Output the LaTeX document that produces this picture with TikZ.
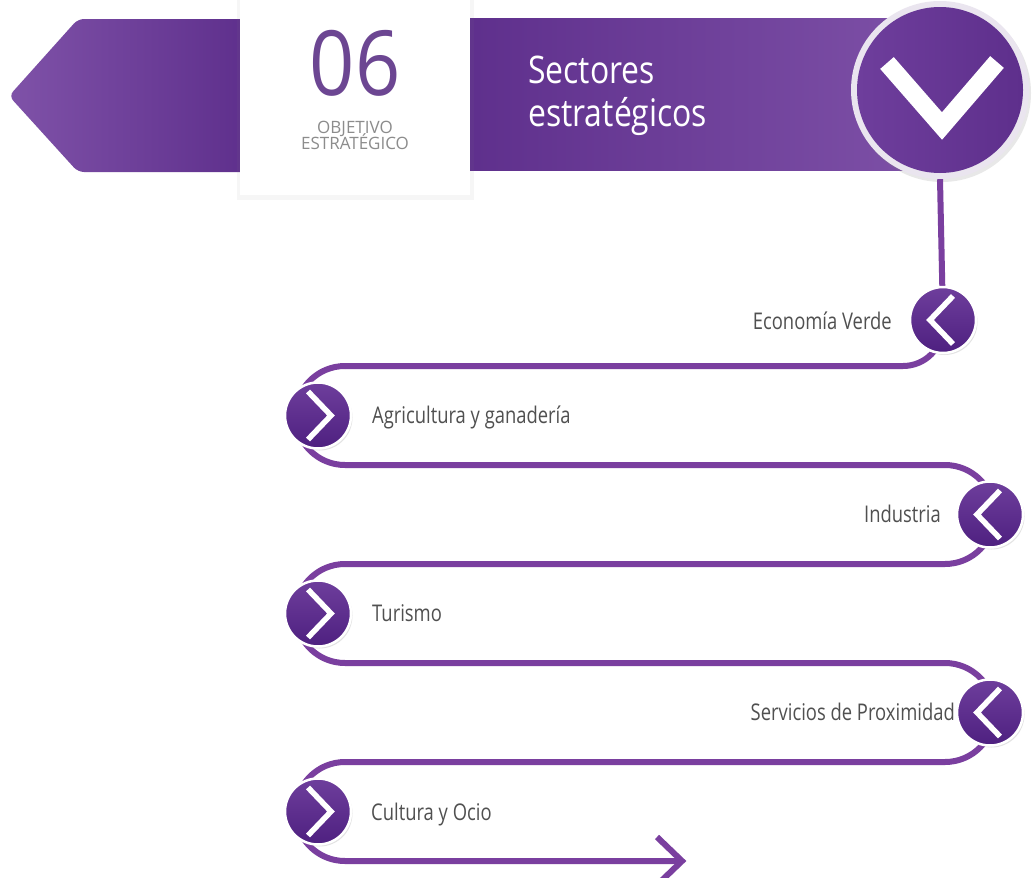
\documentclass[tikz,border=0pt]{standalone}
\usepackage{fontspec}
\setmainfont{Open Sans}
\newfontfamily\labfont{Open Sans}[FakeStretch=0.8]
\newfontfamily\titfont{Open Sans}[FakeStretch=0.84]
\newfontfamily\numfont{Open Sans}[FakeStretch=0.88]
\usetikzlibrary{shadows}
\definecolor{bandA}{HTML}{7F52A8}
\definecolor{bandB}{HTML}{5E2F8C}
\definecolor{linec}{HTML}{7A3F9F}
\definecolor{circA}{HTML}{6E3E9C}
\definecolor{circB}{HTML}{4E2080}
\definecolor{numc}{HTML}{6C4692}
\definecolor{graytxt}{HTML}{8C8C8C}
\definecolor{labc}{HTML}{505050}
\definecolor{halo}{HTML}{EAE5EF}
\tikzset{
  snake/.style={draw=linec, line width=6pt},
  bullet/.style={circle, minimum size=66pt, inner sep=0pt, top color=circA, bottom color=circB,
    draw=white, line width=2.5pt, drop shadow={opacity=0.22, shadow xshift=1.5pt, shadow yshift=-2pt}},
  lbl/.style={font=\labfont\fontsize{23}{26}\selectfont, text=labc, inner sep=0pt},
  chevr/.pic={\draw[white, line width=5.5pt] (-10,-24) -- (13,0) -- (-10,24);},
  chevl/.pic={\draw[white, line width=5.5pt] (10,-24) -- (-13,0) -- (10,24);},
}
\begin{document}
\begin{tikzpicture}[x=1pt,y=-1pt]
\useasboundingbox (0,0) rectangle (1036,878);
\fill[white] (0,0) rectangle (1036,878);
% left banner
\shade[left color=bandA, right color=bandB, rounded corners=6pt]
  (250,19) -- (78,19) -- (9,96) -- (78,172) -- (250,172) -- cycle;
% right banner
\shade[left color=bandB, right color=bandA] (460,18) rectangle (950,170);
% white box
\node[fill=white, minimum width=230pt, minimum height=196pt, inner sep=0pt, anchor=north west,
  drop shadow={opacity=0.07, shadow xshift=0pt, shadow yshift=-2pt, shadow scale=1.03}] (box) at (240,-1) {};
\node[font=\numfont\fontsize{90}{90}\selectfont, text=numc, anchor=base, inner sep=0pt] (num) at (355,95) {06};
\node[font=\fontsize{17}{17}\selectfont, text=graytxt, anchor=base, inner sep=0pt] (obj) at (355,133) {OBJETIVO};
\node[font=\fontsize{17}{17}\selectfont, text=graytxt, anchor=base, inner sep=0pt] (est) at (355,149) {ESTRATÉGICO};
% title
\node[font=\titfont\fontsize{38}{42}\selectfont, text=white, anchor=base west, inner sep=0pt] (t1) at (528,83) {Sectores};
\node[font=\titfont\fontsize{38}{42}\selectfont, text=white, anchor=base west, inner sep=0pt] (t2) at (528,126) {estratégicos};
% top circle
\node[circle, minimum size=178pt, inner sep=0pt, fill=halo, drop shadow={opacity=0.18, shadow xshift=2pt, shadow yshift=-3pt}] (halo) at (940,90) {};
\node[circle, minimum size=166pt, inner sep=0pt, left color=circA, right color=bandB] (top) at (940,90) {};
\draw[white, line width=18pt] ([shift={(-53,-27)}]top.center) -- ([shift={(2,36)}]top.center) -- ([shift={(57,-28)}]top.center);
% bullets positions
\coordinate (evc) at (943,320);
\coordinate (endp) at (682,861);
% snake
\draw[snake] (halo.south) -- (evc);
\draw[snake, rounded corners=40pt] (evc) -- (943,366) -- (345,366);
\draw[snake] (345,366) arc[start angle=270, end angle=90, radius=49.5]
  -- (945,465) arc[start angle=-90, end angle=90, radius=49.5]
  -- (345,564) arc[start angle=270, end angle=90, radius=49.5]
  -- (945,663) arc[start angle=-90, end angle=90, radius=49.5]
  -- (345,762) arc[start angle=270, end angle=90, radius=49.5]
  -- (endp);
\draw[snake, miter limit=4] ([shift={(-25,-24)}]endp) -- (endp) -- ([shift={(-25,24)}]endp);
% bullets
\node[bullet] (ev) at (evc) {};
\node[bullet] (agri) at (318,415.5) {};
\node[bullet] (ind) at (990,514.5) {};
\node[bullet] (tur) at (318,613.5) {};
\node[bullet] (serv) at (990,712.5) {};
\node[bullet] (cult) at (318,811.5) {};
\pic at (ev) {chevl};
\pic at (ind) {chevl};
\pic at (serv) {chevl};
\pic at (agri) {chevr};
\pic at (tur) {chevr};
\pic at (cult) {chevr};
% labels
\node[lbl, anchor=base east] (lev) at (892,329) {Economía Verde};
\node[lbl, anchor=base west] (lagri) at (372,423) {Agricultura y ganadería};
\node[lbl, anchor=base east] (lind) at (941,522) {Industria};
\node[lbl, anchor=base west] (ltur) at (372,621) {Turismo};
\node[lbl, anchor=base east] (lserv) at (955,720) {Servicios de Proximidad};
\node[lbl, anchor=base west] (lcult) at (371,820) {Cultura y Ocio};
\end{tikzpicture}
\end{document}
